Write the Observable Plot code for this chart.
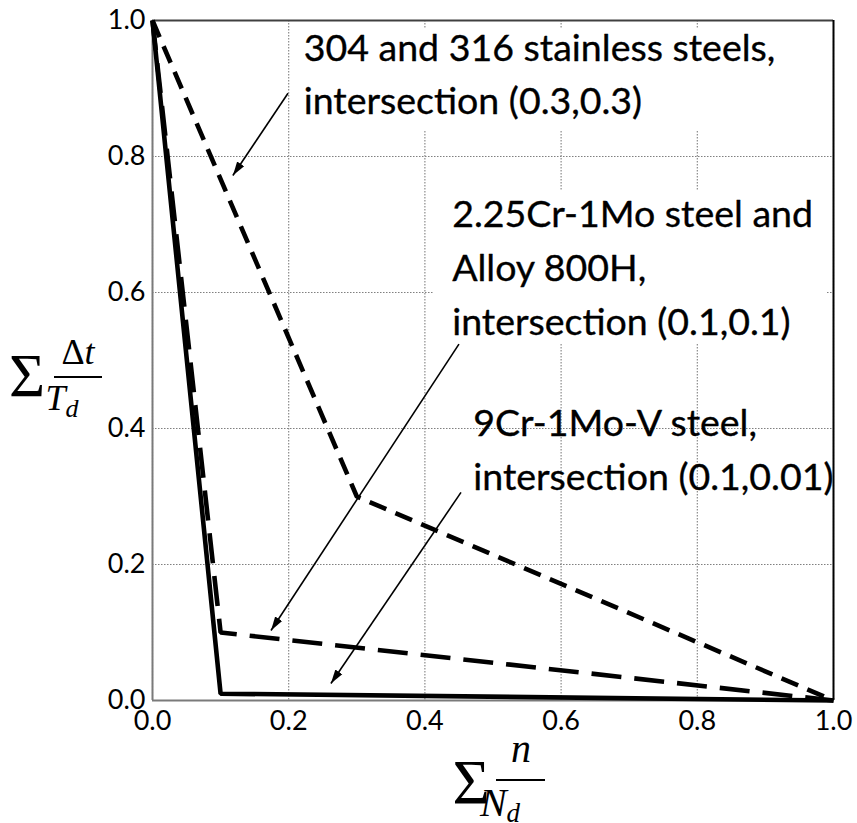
<!DOCTYPE html>
<html><head><meta charset="utf-8">
<script src="https://cdn.jsdelivr.net/npm/d3@7"></script>
<script src="https://cdn.jsdelivr.net/npm/@observablehq/plot@0.6"></script>
<style>
body{margin:0;background:#fff}
g[aria-label="x-axis tick label"] text, g[aria-label="y-axis tick label"] text { font-size: 27px; font-family: Lato; fill:#000; }
</style>
</head><body><div id="chart"></div>
<script>
// ---- data ----
const seriesNames = ["9Cr-1Mo-V steel", "2.25Cr-1Mo steel and Alloy 800H", "304 and 316 stainless steels"];
const kneeX = [0.1, 0.1, 0.3];
const kneeY = [0.01, 0.1, 0.3];
const startX = 0, startY = 1;
const endX = 1, endY = 0;
const seriesDash = ["none", "30,13", "18,10"];
const xTicks = [0, 0.2, 0.4, 0.6, 0.8, 1.0];
const yTicks = [0, 0.2, 0.4, 0.6, 0.8, 1.0];

const labelTexts = [
  "304 and 316 stainless steels,\nintersection (0.3,0.3)",
  "2.25Cr-1Mo steel and\nAlloy 800H,\nintersection (0.1,0.1)",
  "9Cr-1Mo-V steel,\nintersection (0.1,0.01)"
];
const labelX = [0.222, 0.440, 0.471];
const labelY = [0.862, 0.538, 0.310];
const arrowX1 = [0.199, 0.450, 0.453];
const arrowY1 = [0.893, 0.524, 0.306];
const arrowX2 = [0.118, 0.174, 0.262];
const arrowY2 = [0.772, 0.103, 0.025];
// white text-box backgrounds (first two labels)
const boxX1 = [0.207, 0.413];
const boxX2 = [0.953, 0.991];
const boxY1 = [0.838, 0.525];
const boxY2 = [0.988, 0.750];

// ---- build tables ----
const lineData = seriesNames.map((name, i) => [
  {s: name, x: startX, y: startY},
  {s: name, x: kneeX[i], y: kneeY[i]},
  {s: name, x: endX, y: endY}
]);
const labels = labelTexts.map((t, i) => ({t, x: labelX[i], y: labelY[i]}));
const arrows = arrowX1.map((_, i) => ({x1: arrowX1[i], y1: arrowY1[i], x2: arrowX2[i], y2: arrowY2[i]}));
const boxes = boxX1.map((_, i) => ({x1: boxX1[i], x2: boxX2[i], y1: boxY1[i], y2: boxY2[i]}));

function filledArrow(color, context) {
  const m = d3.create("svg:marker")
    .attr("viewBox", "-14 -5 15 10")
    .attr("markerUnits", "userSpaceOnUse")
    .attr("markerWidth", 15)
    .attr("markerHeight", 10)
    .attr("refX", 0).attr("refY", 0)
    .attr("orient", "auto");
  m.append("path").attr("d", "M0,0L-14,-4.2L-14,4.2Z").attr("fill", color).attr("stroke", "none");
  return m.node();
}

const plot = Plot.plot({
  width: 857,
  height: 823,
  marginLeft: 152,
  marginRight: 24,
  marginTop: 20,
  marginBottom: 123,
  style: {fontFamily: "Lato", background: "#fff", color: "#000"},
  x: {domain: [0, 1], ticks: xTicks, tickFormat: ".1f"},
  y: {domain: [0, 1], ticks: yTicks, tickFormat: ".1f"},
  marks: [
    Plot.gridX(xTicks, {stroke: "#808080", strokeOpacity: 1, strokeDasharray: "1.5,1.5", strokeWidth: 1.1}),
    Plot.gridY(yTicks, {stroke: "#808080", strokeOpacity: 1, strokeDasharray: "1.5,1.5", strokeWidth: 1.1}),
    Plot.rect(boxes, {x1: "x1", x2: "x2", y1: "y1", y2: "y2", fill: "#fff"}),
    Plot.ruleX([0], {stroke: "#7a7a7a", strokeWidth: 2}),
    Plot.ruleY([0], {stroke: "#7a7a7a", strokeWidth: 2}),
    Plot.ruleY([1], {stroke: "#404040", strokeWidth: 2}),
    Plot.ruleX([1], {stroke: "#000", strokeWidth: 2}),
    ...lineData.map((d, i) => Plot.line(d, {
      x: "x", y: "y", stroke: "#000", strokeWidth: 4.6,
      strokeDasharray: seriesDash[i], strokeLinejoin: "miter", strokeLinecap: "butt"
    })),
    Plot.link(arrows, {x1: "x1", y1: "y1", x2: "x2", y2: "y2", stroke: "#000", strokeWidth: 1.6, markerEnd: filledArrow}),
    Plot.text(labels, {x: "x", y: "y", text: "t", textAnchor: "start", lineAnchor: "bottom",
      lineHeight: 1.43, fontSize: 37.5, fontFamily: "Lato", fill: "#000", stroke: "#000", strokeWidth: 0.35}),
    Plot.axisX(xTicks, {tickFormat: ".1f", tickSize: 0, tickPadding: 10, label: null}),
    Plot.axisY(yTicks, {tickFormat: ".1f", tickSize: 0, tickPadding: 7, label: null})
  ]
});

// math axis labels
const svg = d3.select(plot);
const g = svg.append("g").attr("fill", "#000");
const serif = "'Liberation Serif', 'DejaVu Serif', serif";
// y label: Σ Δt / T_d
g.append("text").attr("x", 27).attr("y", 396).attr("text-anchor", "middle")
  .attr("font-family", serif).attr("font-size", 62).text("\u03A3");
g.append("text").attr("x", 78).attr("y", 364).attr("text-anchor", "middle")
  .attr("font-family", serif).attr("font-size", 36)
  .call(t => { t.append("tspan").text("\u0394"); t.append("tspan").attr("font-style", "italic").text("t"); });
g.append("line").attr("x1", 54).attr("x2", 102).attr("y1", 377).attr("y2", 377).attr("stroke", "#000").attr("stroke-width", 1.8);
g.append("text").attr("x", 62).attr("y", 410).attr("font-family", serif).attr("font-size", 36).attr("font-style", "italic")
  .call(t => { t.append("tspan").text("T"); t.append("tspan").attr("font-size", 26).attr("dy", 7).text("d"); });
// x label: Σ n / N_d
g.append("text").attr("x", 471).attr("y", 804).attr("text-anchor", "middle")
  .attr("font-family", serif).attr("font-size", 64).text("\u03A3");
g.append("text").attr("x", 521).attr("y", 762).attr("text-anchor", "middle")
  .attr("font-family", serif).attr("font-size", 40).attr("font-style", "italic").text("n");
g.append("line").attr("x1", 496).attr("x2", 545).attr("y1", 780).attr("y2", 780).attr("stroke", "#000").attr("stroke-width", 1.8);
g.append("text").attr("x", 500).attr("y", 816).attr("font-family", serif).attr("font-size", 40).attr("font-style", "italic")
  .call(t => { t.append("tspan").text("N"); t.append("tspan").attr("font-size", 27).attr("dy", 6).text("d"); });

document.getElementById("chart").appendChild(plot);
</script>
</body></html>
